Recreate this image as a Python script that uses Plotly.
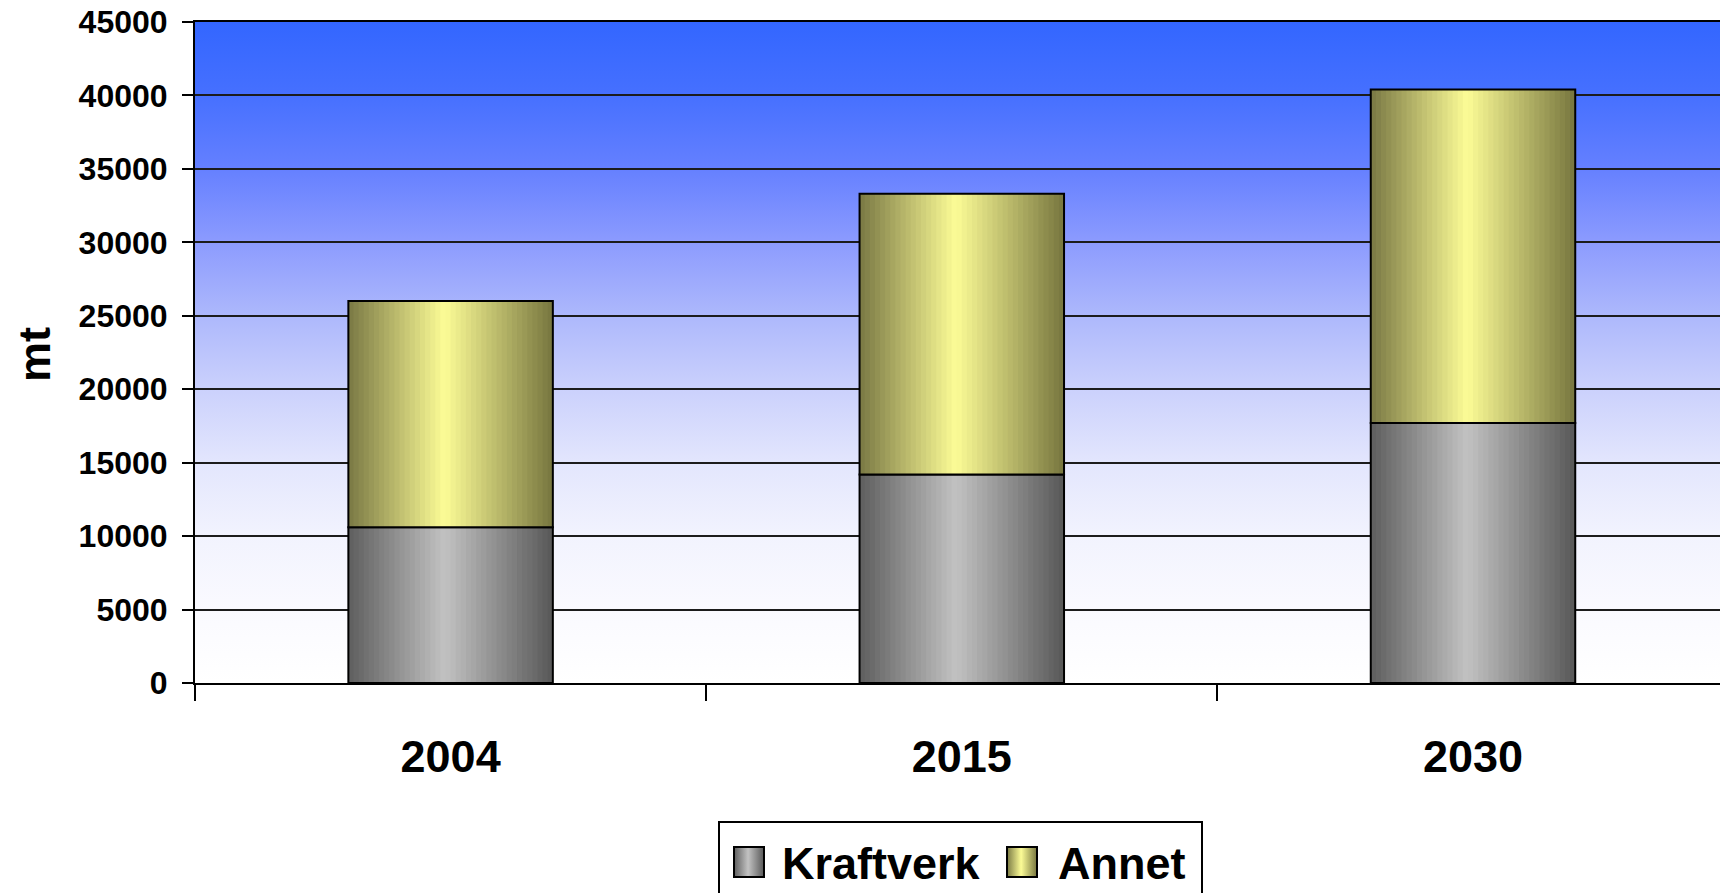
import base64
import plotly.graph_objects as go

# ---------------- data ----------------
years = ["2004", "2015", "2030"]
kraftverk = [10600, 14200, 17700]
annet = [15400, 19100, 22700]
series_names = ["Kraftverk", "Annet"]
y_ticks = [0, 5000, 10000, 15000, 20000, 25000, 30000, 35000, 40000, 45000]

# ---------------- layout constants ----------------
W, H = 1720, 893
ML, MR, MT, MB = 195, 0, 22, 210
PW, PH = W - ML - MR, H - MT - MB
BAR_W = 0.4
N_STRIPS = 40
FONT = "Liberation Sans, Arial, sans-serif"


def px(x):  # page pixel -> paper
    return (x - ML) / PW


def py(y):
    return (H - MB - y) / PH


def hex2rgb(h):
    h = h.lstrip("#")
    return [int(h[i:i + 2], 16) for i in (0, 2, 4)]


def grad_color(u, edge_l, peak, edge_r, p=0.47):
    a, b, c = hex2rgb(edge_l), hex2rgb(peak), hex2rgb(edge_r)
    if u <= p:
        t = u / p
        col = [a[i] + (b[i] - a[i]) * t for i in range(3)]
    else:
        t = (u - p) / (1 - p)
        col = [b[i] + (c[i] - b[i]) * t for i in range(3)]
    return "rgb(%d,%d,%d)" % tuple(round(v) for v in col)


GRAY = ("#5e5e5e", "#c2c2c2", "#585858")
YELLOW = ("#7a7944", "#fcfc96", "#77763f")

fig = go.Figure()


def add_strips(values, base, pal, name):
    step = BAR_W / N_STRIPS
    for k in range(N_STRIPS):
        u = (k + 0.5) / N_STRIPS
        fig.add_trace(go.Bar(
            x=years, y=values, base=base,
            offset=-BAR_W / 2 + k * step, width=step * 1.25 if k < N_STRIPS - 1 else step,
            marker=dict(color=grad_color(u, *pal), line=dict(width=0)),
            name=name, showlegend=False, hoverinfo="skip",
        ))
    fig.add_trace(go.Bar(
        x=years, y=values, base=base, offset=-BAR_W / 2, width=BAR_W,
        marker=dict(color="rgba(0,0,0,0)", line=dict(color="black", width=2)),
        name=name, showlegend=False,
    ))


add_strips(kraftverk, [0, 0, 0], GRAY, series_names[0])
add_strips(annet, kraftverk, YELLOW, series_names[1])


def svg_uri(svg):
    return "data:image/svg+xml;base64," + base64.b64encode(svg.encode()).decode()


bg_stops = [(0, "#3366ff"), (0.111, "#4670ff"), (0.222, "#6580ff"), (0.333, "#8c9bfe"),
            (0.444, "#adb8fc"), (0.556, "#cbd1fc"), (0.667, "#e3e6fd"), (0.778, "#f2f3fe"),
            (0.889, "#fafaff"), (1, "#ffffff")]
bg_svg = ('<svg xmlns="http://www.w3.org/2000/svg" width="100" height="100" viewBox="0 0 100 100" '
          'preserveAspectRatio="none"><defs><linearGradient id="g" x1="0" y1="0" x2="0" y2="1">'
          + "".join('<stop offset="%g" stop-color="%s"/>' % s for s in bg_stops)
          + '</linearGradient></defs><rect width="100" height="100" fill="url(#g)"/></svg>')


def swatch_svg(pal):
    stops = [(0, pal[0]), (0.47, pal[1]), (1, pal[2])]
    return ('<svg xmlns="http://www.w3.org/2000/svg" width="30" height="30" viewBox="0 0 30 30" '
            'preserveAspectRatio="none"><defs><linearGradient id="g" x1="0" y1="0" x2="1" y2="0">'
            + "".join('<stop offset="%g" stop-color="%s"/>' % s for s in stops)
            + '</linearGradient></defs><rect width="30" height="30" fill="url(#g)"/></svg>')


images = [dict(source=svg_uri(bg_svg), xref="paper", yref="paper", x=0, y=1, sizex=1, sizey=1,
               sizing="stretch", layer="below", xanchor="left", yanchor="top")]
shapes = []
annotations = []

# legend (drawn manually to get large swatches)
shapes.append(dict(type="rect", xref="paper", yref="paper", x0=px(719), x1=px(1202),
                   y0=py(822), y1=py(905), line=dict(color="black", width=2), fillcolor="white",
                   layer="below"))
for name, pal, sx, tx in [(series_names[0], GRAY, 734, 780), (series_names[1], YELLOW, 1007, 1056)]:
    images.append(dict(source=svg_uri(swatch_svg(pal)), xref="paper", yref="paper",
                       x=px(sx), y=py(847), sizex=30 / PW, sizey=30 / PH, sizing="stretch",
                       layer="above", xanchor="left", yanchor="top"))
    shapes.append(dict(type="rect", xref="paper", yref="paper", x0=px(sx), x1=px(sx + 30),
                       y0=py(847), y1=py(877), line=dict(color="black", width=2), layer="above"))
    annotations.append(dict(text=name, xref="paper", yref="paper", x=px(tx), y=py(863),
                            xanchor="left", yanchor="middle", showarrow=False,
                            font=dict(family=FONT, size=45, color="black", weight="bold")))

annotations.append(dict(text="mt", xref="paper", yref="paper", x=px(34), y=py(355),
                        xanchor="center", yanchor="middle", textangle=-90, showarrow=False,
                        font=dict(family=FONT, size=45, color="black", weight="bold")))

fig.update_layout(
    width=W, height=H,
    margin=dict(l=ML, r=MR, t=MT, b=MB, pad=0, autoexpand=False),
    paper_bgcolor="white", plot_bgcolor="rgba(0,0,0,0)",
    barmode="overlay", showlegend=False, hovermode=False,
    images=images, shapes=shapes, annotations=annotations,
    xaxis=dict(type="category", categoryorder="array", categoryarray=years,
               range=[-0.5, -0.5 + PW / 511.2], tickson="boundaries", automargin=False,
               ticks="outside", ticklen=16, tickwidth=2, tickcolor="black",
               showline=True, linewidth=2, linecolor="black", mirror=True,
               showgrid=False, zeroline=False, ticklabelstandoff=33,
               tickfont=dict(family=FONT, size=45, color="black", weight="bold")),
    yaxis=dict(range=[0, 45000], tickvals=y_ticks, tickformat="d", automargin=False,
               ticks="outside", ticklen=11, tickwidth=2, tickcolor="black",
               showline=True, linewidth=2, linecolor="black",
               showgrid=True, gridcolor="#1c1c1c", gridwidth=2, zeroline=False,
               ticklabelstandoff=8, ticklabeloverflow="allow",
               tickfont=dict(family=FONT, size=32, color="black", weight="bold")),
)

fig.write_html("out.html", config={"displayModeBar": False, "staticPlot": True},
               post_script="document.body.style.margin='0';document.body.style.overflow='hidden';")
